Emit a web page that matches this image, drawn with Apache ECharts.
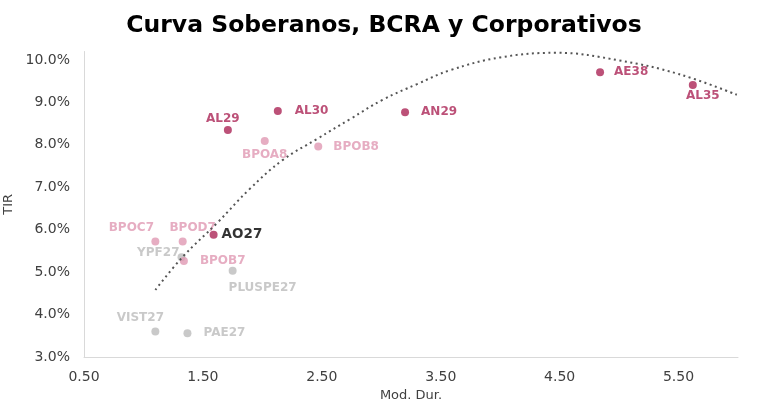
<!DOCTYPE html>
<html>
<head>
<meta charset="utf-8">
<script src="https://cdn.jsdelivr.net/npm/echarts@6/dist/echarts.min.js"></script>
<style>html,body{margin:0;padding:0;background:#fff}#c{width:768px;height:400px}</style>
</head>
<body>
<div id="c"></div>
<script>
// ---- data ----
const bondNames = ['AE38','AL35','AL30','AN29','AL29','AO27','BPOA8','BPOB8','BPOC7','BPOD7','BPOB7','YPF27','PLUSPE27','VIST27','PAE27'];
const modDur    = [4.84, 5.62, 2.13, 3.20, 1.71, 1.59, 2.02, 2.47, 1.10, 1.33, 1.34, 1.32, 1.75, 1.10, 1.37];
const tir       = [9.71, 9.41, 8.80, 8.77, 8.35, 5.88, 8.09, 7.96, 5.72, 5.72, 5.26, 5.35, 5.03, 3.60, 3.56];
const bondGroup = ['sob','sob','sob','sob','sob','sob','bcra','bcra','bcra','bcra','bcra','corp','corp','corp','corp'];
// dotted trend curve
const trendX = [1.10, 1.33, 1.62, 1.89, 2.17, 2.46, 2.74, 3.01, 3.30, 3.58, 4.00, 4.47, 5.00, 5.50, 5.99];
const trendY = [4.58, 5.36, 6.16, 6.95, 7.64, 8.14, 8.61, 9.06, 9.43, 9.76, 10.06, 10.17, 9.99, 9.67, 9.18];
const xTicks = [0.5, 1.5, 2.5, 3.5, 4.5, 5.5];
const yTicks = [3, 4, 5, 6, 7, 8, 9, 10];

// ---- styles ----
const groupColor = {sob:'#ab2656', bcra:'#e098b3', corp:'#bcbcbc'};
const labelStyle = {
  AE38:{position:'right', distance:10},
  AL35:{position:'bottom', distance:1, offset:[10,0]},
  AL30:{position:'right', distance:13},
  AN29:{position:'right', distance:12},
  AL29:{position:'top', distance:1, offset:[-5,0]},
  AO27:{position:'right', distance:4, color:'#000', fontSize:13.5},
  BPOA8:{position:'bottom', distance:4},
  BPOB8:{position:'right', distance:11},
  BPOC7:{position:'top', distance:4, offset:[-24,0]},
  BPOD7:{position:'top', distance:4, offset:[10,0]},
  BPOB7:{position:'right', distance:12},
  YPF27:{position:'left', offset:[7,-4]},
  PLUSPE27:{position:'bottom', distance:7, offset:[30,0]},
  VIST27:{position:'top', distance:4, offset:[-15,0]},
  PAE27:{position:'right', distance:12}
};
const FONT = 'DejaVu Sans';

function groupData(g){
  const out = [];
  bondNames.forEach((n,i)=>{
    if(bondGroup[i]!==g) return;
    const ls = labelStyle[n] || {};
    out.push({
      name:n, value:[modDur[i], tir[i]],
      label:Object.assign({show:true, formatter:n, color:groupColor[g], fontFamily:FONT,
        fontWeight:'bold', fontSize:12}, ls)
    });
  });
  return out;
}

const chart = echarts.init(document.getElementById('c'), null, {renderer:'canvas'});
chart.setOption({
  animation:false,
  backgroundColor:'#fff',
  title:{text:'Curva Soberanos, BCRA y Corporativos', left:'center', top:9,
    textStyle:{fontFamily:FONT, fontWeight:'bold', fontSize:23.5, color:'#000'}},
  grid:{left:84, right:30, top:51.5, bottom:43, containLabel:false, outerBoundsMode:'none'},
  xAxis:{type:'value', min:xTicks[0], max:6, interval:1,
    name:'Mod. Dur.', nameLocation:'middle', nameGap:28,
    nameTextStyle:{fontFamily:FONT, fontSize:13, color:'#404040'},
    axisLine:{show:true, lineStyle:{color:'#d9d9d9', width:1}},
    axisTick:{show:false}, splitLine:{show:false},
    axisLabel:{fontFamily:FONT, fontSize:14, color:'#404040', margin:13, showMaxLabel:false,
      formatter:v=>xTicks.some(t=>Math.abs(t-v)<1e-6)?v.toFixed(2):''}},
  yAxis:{type:'value', min:yTicks[0], max:10.2, interval:1,
    name:'TIR', nameLocation:'middle', nameGap:63, nameRotate:90,
    nameTextStyle:{fontFamily:FONT, fontSize:13, color:'#404040'},
    axisLine:{show:true, lineStyle:{color:'#d9d9d9', width:1}},
    axisTick:{show:false}, splitLine:{show:false},
    axisLabel:{fontFamily:FONT, fontSize:14, color:'#404040', margin:14, showMaxLabel:false,
      formatter:v=>yTicks.some(t=>Math.abs(t-v)<1e-6)?v.toFixed(1)+'%':''}},
  series:[
    {type:'line', data:trendX.map((x,i)=>[x,trendY[i]]), smooth:0.4, showSymbol:false,
      z:3, lineStyle:{color:'#555', width:2, type:[2,3.5]}, silent:true},
    {type:'scatter', data:groupData('corp'), symbolSize:8, itemStyle:{color:groupColor.corp}, z:2},
    {type:'scatter', data:groupData('bcra'), symbolSize:8, itemStyle:{color:groupColor.bcra}, z:2},
    {type:'scatter', data:groupData('sob'), symbolSize:8, itemStyle:{color:groupColor.sob}, z:2}
  ]
});
</script>
</body>
</html>
